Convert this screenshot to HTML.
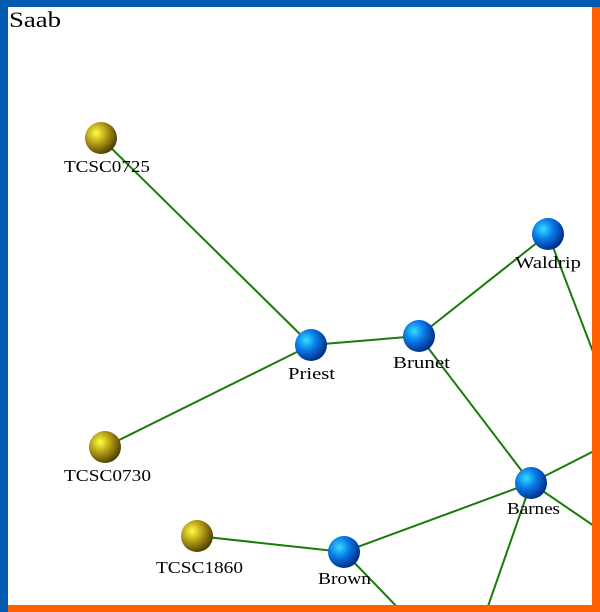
<!DOCTYPE html>
<html><head><style>body{margin:0}svg{display:block}text{font-family:"Liberation Serif","DejaVu Serif",serif}</style></head><body>
<svg width="600" height="612" xmlns="http://www.w3.org/2000/svg">
<defs>
<radialGradient id="b" cx="0.35" cy="0.35" r="0.7"><stop offset="0" stop-color="#33ddff"/><stop offset="0.45" stop-color="#0a7ae8"/><stop offset="1" stop-color="#002a80"/></radialGradient>
<radialGradient id="y" cx="0.35" cy="0.35" r="0.7"><stop offset="0" stop-color="#ffff40"/><stop offset="0.45" stop-color="#b8a018"/><stop offset="1" stop-color="#4a3a00"/></radialGradient>
</defs>
<rect width="600" height="612" fill="#fff"/>
<g stroke="#1a7a0a" stroke-width="2">
<line x1="101" y1="138" x2="311" y2="345"/>
<line x1="105" y1="447" x2="311" y2="345"/>
<line x1="311" y1="345" x2="419" y2="336"/>
<line x1="419" y1="336" x2="548" y2="234"/>
<line x1="548" y1="234" x2="600" y2="370"/>
<line x1="419" y1="336" x2="531" y2="483"/>
<line x1="531" y1="483" x2="600" y2="448"/>
<line x1="531" y1="483" x2="600" y2="530"/>
<line x1="531" y1="483" x2="486" y2="612"/>
<line x1="531" y1="483" x2="344" y2="552"/>
<line x1="197" y1="536" x2="344" y2="552"/>
<line x1="344" y1="552" x2="402" y2="612"/>
</g>
<g>
<circle cx="101" cy="138" r="16" fill="url(#y)"/>
<circle cx="105" cy="447" r="16" fill="url(#y)"/>
<circle cx="197" cy="536" r="16" fill="url(#y)"/>
<circle cx="311" cy="345" r="16" fill="url(#b)"/>
<circle cx="419" cy="336" r="16" fill="url(#b)"/>
<circle cx="548" cy="234" r="16" fill="url(#b)"/>
<circle cx="531" cy="483" r="16" fill="url(#b)"/>
<circle cx="344" cy="552" r="16" fill="url(#b)"/>
</g>
<g font-size="17" fill="#000" lengthAdjust="spacingAndGlyphs">
<text x="64" y="172" textLength="86" lengthAdjust="spacingAndGlyphs">TCSC0725</text>
<text x="64" y="481" textLength="87" lengthAdjust="spacingAndGlyphs">TCSC0730</text>
<text x="156" y="573" textLength="87" lengthAdjust="spacingAndGlyphs">TCSC1860</text>
<text x="288" y="379" textLength="47" lengthAdjust="spacingAndGlyphs">Priest</text>
<text x="393" y="368" textLength="57" lengthAdjust="spacingAndGlyphs">Brunet</text>
<text x="515" y="268" textLength="66" lengthAdjust="spacingAndGlyphs">Waldrip</text>
<text x="507" y="514" textLength="53" lengthAdjust="spacingAndGlyphs">Barnes</text>
<text x="318" y="584" textLength="53" lengthAdjust="spacingAndGlyphs">Brown</text>
</g>
<text x="9" y="27" font-size="22" fill="#000" textLength="52" lengthAdjust="spacingAndGlyphs">Saab</text>
<rect x="0" y="0" width="600" height="7" fill="#005bb0"/>
<rect x="0" y="0" width="8" height="612" fill="#005bb0"/>
<rect x="592" y="7" width="8" height="605" fill="#ff5f00"/>
<rect x="8" y="605" width="592" height="7" fill="#ff5f00"/>
</svg>
</body></html>
